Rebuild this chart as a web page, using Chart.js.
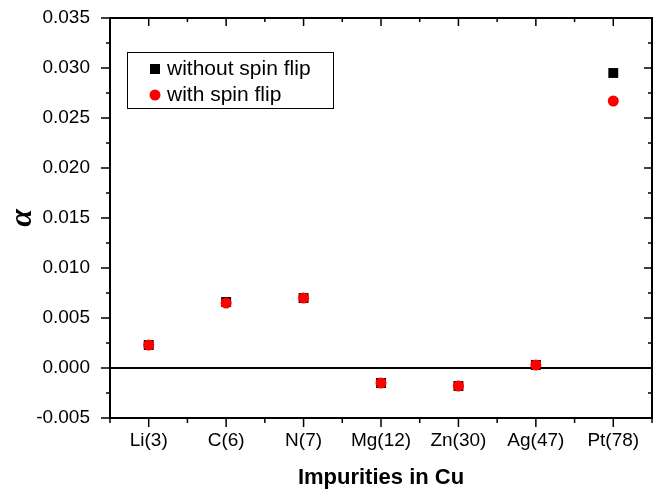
<!DOCTYPE html>
<html>
<head>
<meta charset="utf-8">
<title>Impurities in Cu</title>
<script src="https://cdn.jsdelivr.net/npm/chart.js@4.4.0/dist/chart.umd.min.js"></script>
<style>
  body { margin: 0; background: #fff; }
  canvas { display: block; }
</style>
</head>
<body>
<canvas id="myChart" width="672" height="491"></canvas>
<script>
// data
const impurities = ['Li(3)', 'C(6)', 'N(7)', 'Mg(12)', 'Zn(30)', 'Ag(47)', 'Pt(78)'];
const withoutSpinFlip = [0.0023, 0.0066, 0.0070, -0.0015, -0.0018, 0.0003, 0.0295];
const withSpinFlip = [0.0023, 0.0065, 0.0070, -0.0015, -0.0018, 0.0003, 0.0267];
const seriesNames = ['without spin flip', 'with spin flip'];
const yMin = -0.005, yMax = 0.035, yStep = 0.005;

const FONT = "'Liberation Sans', Arial, sans-serif";

// zero line under the points; frame, ticks (major + minor) and legend box on top
const framePlugin = {
  id: 'frame',
  beforeDatasetsDraw(chart) {
    const ctx = chart.ctx;
    const a = chart.chartArea;
    const y0 = chart.scales.y.getPixelForValue(0);
    ctx.save();
    ctx.strokeStyle = '#000';
    ctx.lineWidth = 2;
    ctx.beginPath();
    ctx.moveTo(a.left, y0);
    ctx.lineTo(a.right, y0);
    ctx.stroke();
    ctx.restore();
  },
  afterDraw(chart) {
    const ctx = chart.ctx;
    const a = chart.chartArea;
    const xs = chart.scales.x, ys = chart.scales.y;
    ctx.save();
    ctx.strokeStyle = '#000';
    ctx.lineWidth = 2;
    ctx.strokeRect(a.left, a.top, a.right - a.left, a.bottom - a.top);
    ctx.lineWidth = 1.5;
    ctx.beginPath();
    // x ticks: bottom outward, top inward
    for (let i = 0; i < impurities.length; i++) {
      const px = xs.getPixelForValue(i);
      ctx.moveTo(px, a.bottom); ctx.lineTo(px, a.bottom + 9);
      ctx.moveTo(px, a.top); ctx.lineTo(px, a.top + 8);
    }
    for (let i = 0; i <= impurities.length; i++) {
      const px = xs.getPixelForValue(i - 0.5);
      ctx.moveTo(px, a.bottom); ctx.lineTo(px, a.bottom + 5);
      ctx.moveTo(px, a.top); ctx.lineTo(px, a.top + 4);
    }
    // y ticks: left outward, right inward
    for (let v = yMin; v <= yMax + 1e-9; v += yStep / 2) {
      const py = ys.getPixelForValue(v);
      const major = Math.abs(Math.round(v / yStep) * yStep - v) < 1e-9;
      ctx.moveTo(a.left, py); ctx.lineTo(a.left - (major ? 9 : 4), py);
      ctx.moveTo(a.right, py); ctx.lineTo(a.right - (major ? 8 : 4), py);
    }
    ctx.stroke();

    // legend
    const lx = a.left + 17, ly = a.top + 34;
    ctx.lineWidth = 1;
    ctx.strokeRect(lx + 0.5, ly + 0.5, 206, 56);
    ctx.fillStyle = '#000';
    ctx.fillRect(lx + 23, ly + 12, 10, 10);
    ctx.fillStyle = '#ff0000';
    ctx.beginPath();
    ctx.arc(lx + 28, ly + 43, 5.5, 0, Math.PI * 2);
    ctx.fill();
    ctx.fillStyle = '#000';
    ctx.font = '21px ' + FONT;
    ctx.textBaseline = 'middle';
    ctx.fillText(seriesNames[0], lx + 40, ly + 17);
    ctx.fillText(seriesNames[1], lx + 40, ly + 43);
    ctx.restore();
  }
};

const ctx = document.getElementById('myChart').getContext('2d');
const chart = new Chart(ctx, {
  type: 'line',
  data: {
    labels: impurities,
    datasets: [{
      label: seriesNames[1],
      data: withSpinFlip,
      showLine: false,
      pointStyle: 'circle',
      pointRadius: 5.5,
      pointBackgroundColor: '#ff0000',
      pointBorderWidth: 0,
      borderColor: '#ff0000'
    }, {
      label: seriesNames[0],
      data: withoutSpinFlip,
      showLine: false,
      pointStyle: 'rect',
      pointRadius: 7,
      pointBackgroundColor: '#000',
      pointBorderWidth: 0,
      borderColor: '#000'
    }]
  },
  options: {
    responsive: false,
    animation: false,
    devicePixelRatio: 1,
    layout: { padding: { left: 0, top: 18, right: 20, bottom: 0 } },
    plugins: {
      legend: { display: false },
      tooltip: { enabled: false }
    },
    scales: {
      x: {
        type: 'category',
        offset: true,
        grid: { display: false },
        border: { display: false },
        ticks: { color: '#000', font: { family: FONT, size: 19 }, padding: 3, maxRotation: 0 },
        title: {
          display: true,
          text: 'Impurities in Cu',
          color: '#000',
          font: { family: FONT, size: 22, weight: 'bold' },
          padding: { top: 6, bottom: 0 }
        },
        afterFit(s) { s.height = 73; s.paddingLeft = 0; s.paddingRight = 0; }
      },
      y: {
        min: yMin,
        max: yMax,
        grid: { display: false },
        border: { display: false },
        ticks: {
          stepSize: yStep,
          color: '#000',
          font: { family: FONT, size: 19 },
          padding: 12,
          callback: v => v.toFixed(3)
        },
        title: {
          display: true,
          text: 'α',
          color: '#000',
          font: { family: "'Liberation Serif', 'Times New Roman', serif", size: 32, weight: 'bold', style: 'italic' },
          padding: { top: 4, bottom: 0 }
        },
        afterFit(s) { s.width = 110; s.paddingTop = 0; s.paddingBottom = 0; }
      }
    }
  },
  plugins: [framePlugin]
});
</script>
</body>
</html>
